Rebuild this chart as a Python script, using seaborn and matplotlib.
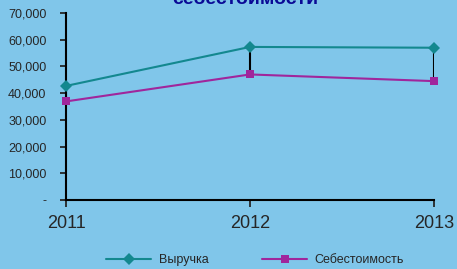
import matplotlib
matplotlib.use("Agg")
import matplotlib.pyplot as plt
import matplotlib.ticker as mticker
import seaborn as sns
import pandas as pd

# data
years = [2011, 2012, 2013]
revenue = [42700, 57300, 57000]
cost = [36900, 47000, 44500]
series_names = ["Выручка", "Себестоимость"]
title_text = "себестоимости"

bg = "#80C6EA"
teal = "#13888F"
magenta = "#A0269C"

df = pd.DataFrame({
    "year": years * 2,
    "value": revenue + cost,
    "series": [series_names[0]] * 3 + [series_names[1]] * 3,
})

sns.set_style("white")
plt.rcParams["font.family"] = ["Liberation Sans", "DejaVu Sans"]

fig = plt.figure(figsize=(4.57, 2.69), dpi=100, facecolor=bg)
ax = fig.add_axes([66 / 457, 69 / 269, 368 / 457, 187 / 269])
ax.set_facecolor(bg)

# high-low lines between the two series
ax.vlines(years, cost, revenue, color="black", lw=1.5, zorder=1)

sns.lineplot(data=df, x="year", y="value", hue="series", style="series",
             palette=[teal, magenta], markers=["D", "s"], dashes=False,
             markersize=6, markeredgewidth=0, lw=1.5, ax=ax, zorder=3,
             clip_on=False)

ax.set_xlim(2011, 2013)
ax.set_ylim(0, 70000)
ax.set_xticks(years)
ax.set_xticklabels([str(y) for y in years], fontsize=13)
ax.set_yticks(range(0, 70001, 10000))
ax.yaxis.set_major_formatter(mticker.FuncFormatter(
    lambda v, p: "-" if v == 0 else f"{v:,.0f}"))
ax.tick_params(axis="y", labelsize=9, length=4, width=1.3, direction="out",
               left=True, pad=10)
ax.tick_params(axis="x", length=5, width=1.3, direction="out", bottom=True,
               pad=6)
ax.set_xlabel("")
ax.set_ylabel("")
for side in ["top", "right"]:
    ax.spines[side].set_visible(False)
for side in ["left", "bottom"]:
    ax.spines[side].set_color("black")
    ax.spines[side].set_linewidth(1.5)
    ax.spines[side].set_zorder(2)

leg = ax.legend(loc="center", bbox_to_anchor=(255 / 457, 9 / 269),
                bbox_transform=fig.transFigure, ncol=2, frameon=False,
                fontsize=9, handlelength=3.6, handletextpad=0.6,
                columnspacing=4.3)

# the chart title is cut by the top edge in the reference
fig.text(245 / 457, 1 - 4.5 / 269, title_text, ha="center", va="baseline",
         fontsize=14, fontweight="bold", color="#0A0A96")

fig.savefig("out.png", dpi=100, facecolor=bg)
